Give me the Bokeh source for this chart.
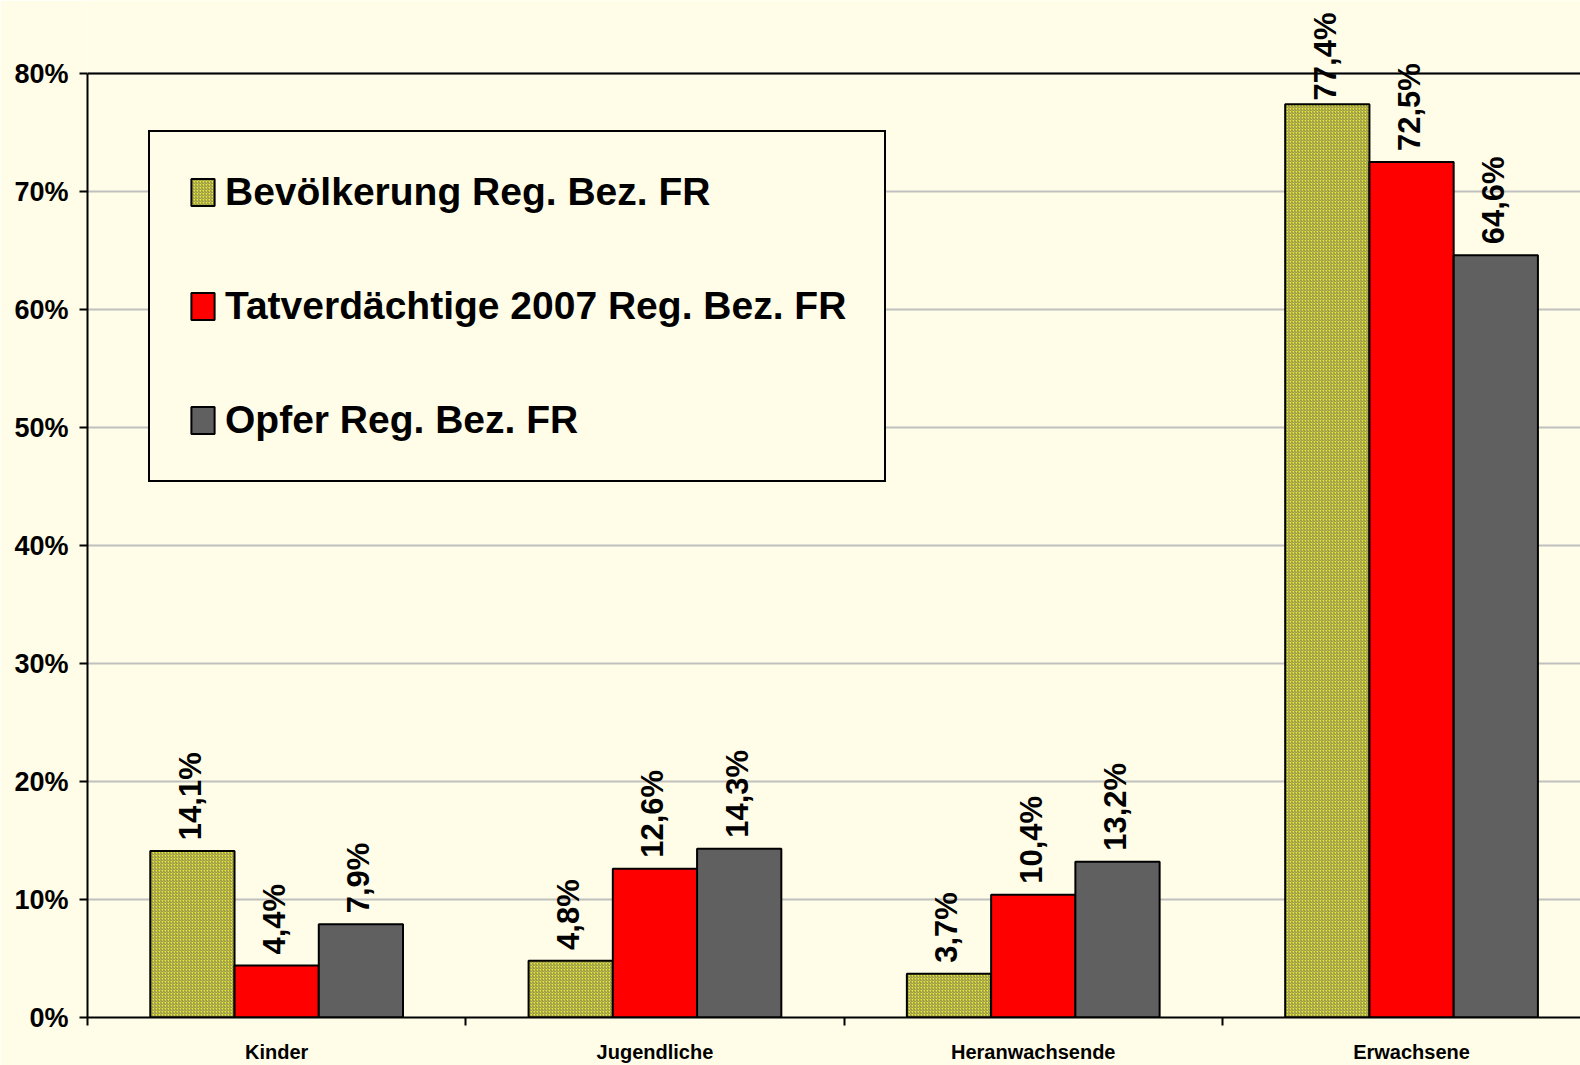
import math
from bokeh.plotting import figure
from bokeh.models import (ColumnDataSource, Range1d, FixedTicker, LinearAxis,
                          PrintfTickFormatter, LabelSet, Legend, LegendItem, Span)
from bokeh.core.properties import value
from bokeh.embed import file_html
from bokeh.resources import INLINE

categories = ["Kinder", "Jugendliche", "Heranwachsende", "Erwachsene"]
series_names = ["Bevölkerung Reg. Bez. FR", "Tatverdächtige 2007 Reg. Bez. FR", "Opfer Reg. Bez. FR"]
bevoelkerung = [14.1, 4.8, 3.7, 77.4]
tatverdaechtige = [4.4, 12.6, 10.4, 72.5]
opfer = [7.9, 14.3, 13.2, 64.6]
y_ticks = [0, 10, 20, 30, 40, 50, 60, 70, 80]

BG = "#FFFDE7"
SANS = "Liberation Sans"

y_max = 80
px_per_pct = 11.8          # frame pixels per percent
top_room = 73              # pixels above the 80 % line (room for value labels)
y_end = y_max + top_room / px_per_pct
bar_w = 0.2227
frame_w = 1493
cat_px = 378.3
label_px = 31
label_gap = 11
label_top_min = 12

p = figure(width=1580, height=1065, output_backend="svg", toolbar_location=None,
           x_range=Range1d(0, frame_w / cat_px),
           y_range=Range1d(0, y_end),
           min_border_left=87, min_border_right=0, min_border_top=0, min_border_bottom=48,
           background_fill_color=BG, border_fill_color=BG, x_axis_type=None)
p.outline_line_color = None

# y axis
ya = p.yaxis[0]
ya.ticker = FixedTicker(ticks=y_ticks)
ya.bounds = (0, y_max)
ya.formatter = PrintfTickFormatter(format="%d%%")
ya.major_label_text_font = SANS
ya.major_label_text_font_style = "bold"
ya.major_label_text_font_size = "27px"
ya.major_label_text_color = "black"
ya.major_label_standoff = 11
ya.major_tick_out = 8
ya.major_tick_in = 0
ya.major_tick_line_width = 2
ya.major_tick_line_color = "black"
ya.minor_tick_line_color = None
ya.axis_line_width = 2
ya.axis_line_color = "black"

p.ygrid.ticker = FixedTicker(ticks=y_ticks)
p.ygrid.grid_line_color = "#C0C0C0"
p.ygrid.grid_line_width = 2
p.xgrid.grid_line_color = None

# x axis
centers = [i + 0.5 for i in range(len(categories))]
xa = LinearAxis(ticker=FixedTicker(ticks=centers, minor_ticks=list(range(len(categories)))),
                major_label_overrides={c: n for c, n in zip(centers, categories)})
xa.major_tick_line_color = None
xa.major_tick_out = 0
xa.minor_tick_out = 8
xa.minor_tick_in = 0
xa.minor_tick_line_width = 2
xa.minor_tick_line_color = "black"
xa.axis_line_width = 2
xa.axis_line_color = "black"
xa.major_label_text_font = SANS
xa.major_label_text_font_style = "bold"
xa.major_label_text_font_size = "20px"
xa.major_label_text_color = "black"
xa.major_label_standoff = 15
p.add_layout(xa, "below")

p.add_layout(Span(location=y_max, dimension="width", line_color="black", line_width=2))

series = [bevoelkerung, tatverdaechtige, opfer]
offsets = [-bar_w, 0, bar_w]
styles = [
    dict(fill_color="#E8E838", hatch_pattern="/", hatch_color="#7A7A55", hatch_scale=3, hatch_weight=0.9),
    dict(fill_color="#FF0000"),
    dict(fill_color="#606060"),
]
items = []
for vals, off, st, name in zip(series, offsets, styles, series_names):
    xs = [c + off for c in centers]
    labels = [("%.1f%%" % v).replace(".", ",") for v in vals]
    # keep the rotated value label inside the chart (as the original does for the tallest bar)
    gaps = [min(label_gap, (y_end - v) * px_per_pct - label_top_min - 0.567 * label_px * len(t))
            for v, t in zip(vals, labels)]
    src = ColumnDataSource(dict(x=xs, top=vals, label=labels, gap=gaps))
    r = p.vbar(x="x", top="top", bottom=0, width=bar_w, source=src,
               line_color="black", line_width=2, **st)
    items.append(LegendItem(label=name, renderers=[r]))
    p.add_layout(LabelSet(x="x", y="top", text="label", source=src, angle=math.pi / 2,
                          text_align="left", text_baseline="middle", y_offset="gap", x_offset=-2,
                          text_font=value(SANS), text_font_style="bold",
                          text_font_size="%dpx" % label_px, text_color="black"))

legend = Legend(items=items, location=(61, 535), orientation="vertical")
legend.label_text_font = SANS
legend.label_text_font_style = "bold"
legend.label_text_font_size = "39px"
legend.label_text_color = "black"
legend.glyph_width = 29
legend.glyph_height = 34
legend.label_standoff = 8
legend.padding = 38
legend.spacing = 70
legend.margin = 0
legend.border_line_color = "black"
legend.border_line_alpha = 1
legend.border_line_width = 2
legend.background_fill_color = BG
legend.background_fill_alpha = 1
p.add_layout(legend)

open("out.html", "w").write(file_html(p, INLINE))
